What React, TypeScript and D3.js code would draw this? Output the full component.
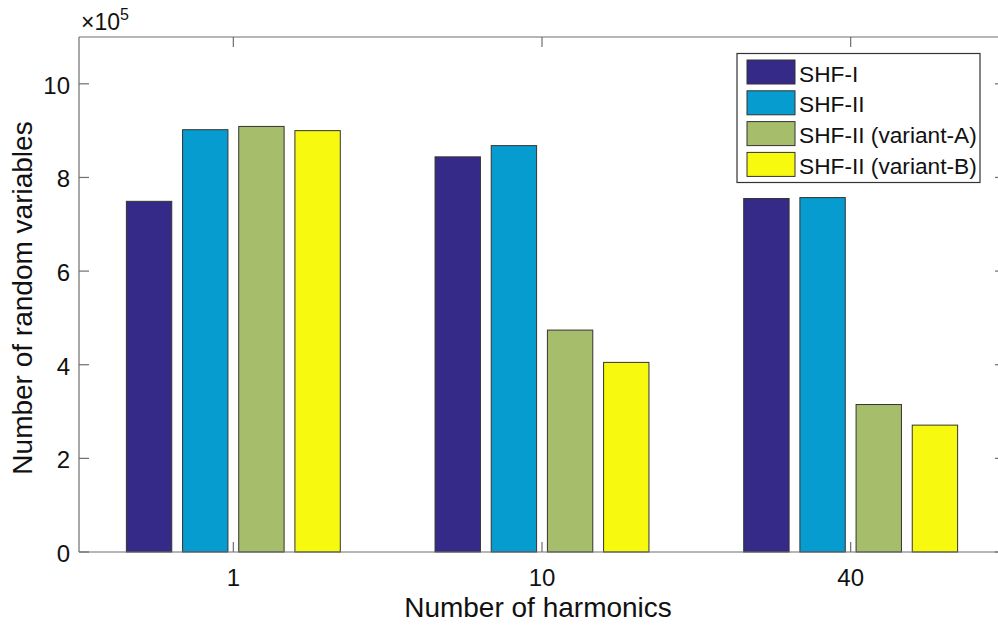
import React from "react";
import * as d3 from "d3";

// Harmonic counts on the x axis and the four method series (values in units of 1e5)
const harmonics = ["1", "10", "40"];
const seriesNames = ["SHF-I", "SHF-II", "SHF-II (variant-A)", "SHF-II (variant-B)"];
const shfI = [7.49, 8.44, 7.55];
const shfII = [9.02, 8.68, 7.57];
const variantA = [9.09, 4.74, 3.15];
const variantB = [9.0, 4.05, 2.71];
const yTicks = [0, 2, 4, 6, 8, 10];

const seriesValues = [shfI, shfII, variantA, variantB];
const colors = ["#352a87", "#069ccf", "#a6be6b", "#f7fa0e"];

const W = 998;
const H = 631;
const margin = { left: 79, top: 37, right: 1005, bottom: 552 };
const font = "Liberation Sans, Arial, Helvetica, sans-serif";

export default function App() {
  // categorical positions 1..3 with half-unit padding either side
  const x = d3.scaleLinear().domain([0.5, 3.5]).range([margin.left, margin.right]);
  const y = d3.scaleLinear().domain([0, 11]).range([margin.bottom, margin.top]);
  const unit = x(2) - x(1);
  const barW = unit * 0.147;
  const step = unit * 0.182;
  const offset = d3.scaleLinear().domain([0, 3]).range([-1.5 * step, 1.5 * step]);
  const axisColor = "#6e6e6e";
  const tickFont = 24;
  const labelFont = 28;

  return (
    <svg
      width={W}
      height={H}
      style={{ position: "absolute", left: 0, top: 0, background: "#fff" }}
      fontFamily={font}
    >
      {/* bars */}
      {seriesValues.map((vals, s) =>
        vals.map((v, i) => {
          const cx = x(i + 1) + offset(s);
          return (
            <rect
              key={`${s}-${i}`}
              x={cx - barW / 2}
              y={y(v)}
              width={barW}
              height={y(0) - y(v)}
              fill={colors[s]}
              stroke="#333"
              strokeWidth={1}
            />
          );
        })
      )}

      {/* axes box */}
      <line x1={margin.left} x2={margin.right} y1={margin.top} y2={margin.top} stroke={axisColor} strokeWidth={1.2} />
      <line x1={margin.left} x2={margin.right} y1={margin.bottom} y2={margin.bottom} stroke={axisColor} strokeWidth={1.2} />
      <line x1={margin.left} x2={margin.left} y1={margin.top} y2={margin.bottom} stroke={axisColor} strokeWidth={1.2} />
      <line x1={margin.right} x2={margin.right} y1={margin.top} y2={margin.bottom} stroke={axisColor} strokeWidth={1.2} />

      {/* y ticks */}
      {yTicks.map((t) => (
        <g key={t}>
          <line x1={margin.left} x2={margin.left + 10} y1={y(t)} y2={y(t)} stroke={axisColor} strokeWidth={1.2} />
          <line x1={margin.right} x2={margin.right - 10} y1={y(t)} y2={y(t)} stroke={axisColor} strokeWidth={1.2} />
          <text x={margin.left - 9} y={y(t) + 9.8} textAnchor="end" fontSize={tickFont} fill="#111">
            {t}
          </text>
        </g>
      ))}

      {/* x ticks */}
      {harmonics.map((h, i) => (
        <g key={h}>
          <line x1={x(i + 1)} x2={x(i + 1)} y1={margin.bottom} y2={margin.bottom - 10} stroke={axisColor} strokeWidth={1.2} />
          <line x1={x(i + 1)} x2={x(i + 1)} y1={margin.top} y2={margin.top + 10} stroke={axisColor} strokeWidth={1.2} />
          <text x={x(i + 1)} y={585.5} textAnchor="middle" fontSize={tickFont} fill="#111">
            {h}
          </text>
        </g>
      ))}

      {/* exponent */}
      <text x={81} y={30} fontSize={23} fill="#111">
        ×10
        <tspan dy={-10} fontSize={16}>5</tspan>
      </text>

      {/* axis labels */}
      <text x={538} y={617} textAnchor="middle" fontSize={labelFont} fill="#111">
        Number of harmonics
      </text>
      <text
        transform={`translate(32, 298) rotate(-90)`}
        textAnchor="middle"
        fontSize={labelFont}
        fill="#111"
      >
        Number of random variables
      </text>

      {/* legend */}
      <g>
        <rect x={737} y={53.5} width={243} height={129} fill="#fff" stroke="#333" strokeWidth={1.2} />
        {seriesNames.map((name, i) => {
          const cy = 72 + i * 30.8;
          return (
            <g key={name}>
              <rect x={747} y={cy - 12} width={48} height={24} fill={colors[i]} stroke="#333" strokeWidth={1} />
              <text x={799} y={cy + 9.5} fontSize={22.7} fill="#111">
                {name}
              </text>
            </g>
          );
        })}
      </g>
    </svg>
  );
}
